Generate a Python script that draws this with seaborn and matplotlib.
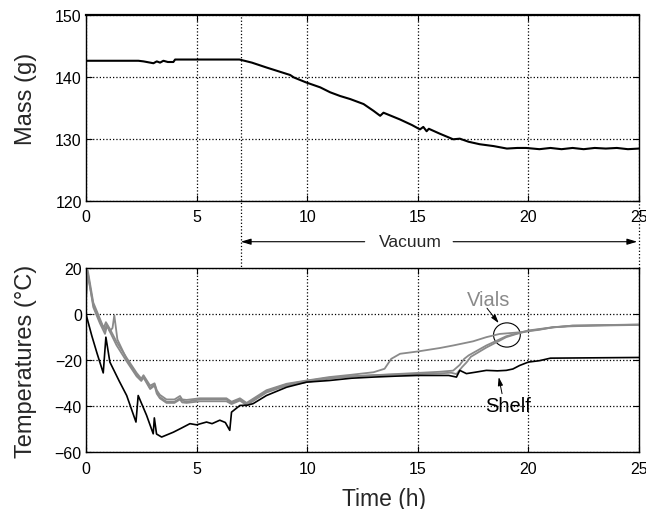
import matplotlib.pyplot as plt
import seaborn as sns
from matplotlib.patches import Ellipse
from matplotlib.transforms import blended_transform_factory

# Mass of the product during the run
mass_t = [0, 0.2, 2.37, 2.6, 3.05, 3.2, 3.35, 3.5, 3.7, 3.95, 4.03, 5.5, 6.94,
          7.5, 8.17, 8.7, 9.23, 9.4, 9.95, 10.59, 11.04, 11.49, 11.95, 12.55,
          13.0, 13.3, 13.45, 14.2, 14.74, 15.1, 15.25, 15.4, 15.5, 16.0, 16.6,
          16.9, 17.3, 17.8, 18.43, 19.03, 19.5, 19.9, 20.5, 21.0, 21.5, 22.0,
          22.5, 23.0, 23.5, 24.0, 24.5, 25.0]
mass_g = [142.6, 142.6, 142.6, 142.5, 142.2, 142.5, 142.3, 142.6, 142.4, 142.4,
          142.8, 142.8, 142.8, 142.3, 141.5, 140.9, 140.3, 139.9, 139.1, 138.3,
          137.5, 136.9, 136.4, 135.6, 134.5, 133.7, 134.2, 133.1, 132.2, 131.5,
          131.9, 131.2, 131.6, 130.8, 129.9, 130.0, 129.5, 129.1, 128.8, 128.4,
          128.5, 128.5, 128.3, 128.5, 128.3, 128.5, 128.3, 128.5, 128.4, 128.5,
          128.3, 128.4]

# Shelf temperature
shelf_t = [0, 0.26, 0.5, 0.78, 0.9, 1.08, 1.5, 1.84, 2.26, 2.36, 2.74, 3.04,
           3.09, 3.19, 3.42, 3.95, 4.3, 4.7, 5.0, 5.45, 5.7, 6.05, 6.3, 6.5,
           6.58, 6.96, 7.3, 7.56, 8.16, 9.07, 9.97, 11.0, 12.0, 13.0, 14.0,
           15.0, 16.4, 16.75, 16.9, 17.2, 17.6, 18.1, 18.6, 19.0, 19.3, 19.6,
           20.0, 20.5, 21.0, 25.0]
shelf_c = [0, -9.3, -17, -25.5, -10, -20.8, -29, -35.3, -46.8, -35.3, -43.9,
           -51.9, -45, -52, -53.3, -51.2, -49.5, -47.5, -48, -46.8, -47.5, -46,
           -47, -50.4, -42.5, -39.6, -39.5, -38.8, -35.3, -31.7, -29.5, -28.8,
           -27.8, -27.3, -26.9, -26.6, -26.6, -27.3, -24.4, -25.8, -25.2, -24.4,
           -24.6, -24.4, -23.8, -22.3, -20.8, -20.2, -19.1, -18.8]

# Vial temperatures
vial1_t = [0, 0.08, 0.33, 0.63, 0.8, 0.9, 1.08, 1.38, 1.84, 2.29, 2.5, 2.6,
           2.9, 3.1, 3.2, 3.34, 3.64, 4.0, 4.25, 4.35, 4.55, 5.15, 6.35, 6.58,
           6.96, 7.26, 8.16, 9.07, 9.97, 11.0, 12.0, 13.0, 13.5, 13.8, 14.2,
           15.0, 16.0, 16.6, 17.5, 18.1, 18.7, 19.6, 20.5, 21.1, 21.9, 23.0,
           25.0]
vial1_c = [8, 19, 5, -2, -6, -3.5, -6.4, -12, -19, -25.5, -28, -26.5, -31, -30,
           -33, -35, -37, -37, -35.5, -37, -37.2, -36.5, -36.5, -38, -36.5,
           -38.5, -33, -30.2, -28.8, -27.3, -26.3, -25.2, -23.7, -19.4, -17.2,
           -16.2, -14.7, -13.6, -11.8, -10, -8.6, -7.9, -6.8, -5.7, -5.3, -5.0,
           -4.7]
vial2_t = [0, 0.08, 0.33, 0.63, 0.86, 0.95, 1.1, 1.38, 1.84, 2.29, 2.5, 2.6,
           2.9, 3.1, 3.2, 3.34, 3.64, 4.0, 4.25, 4.35, 4.55, 5.15, 6.35, 6.58,
           6.96, 7.26, 8.16, 9.07, 9.97, 11.0, 12.0, 13.0, 14.0, 15.0, 16.0,
           16.6, 16.9, 17.1, 17.3, 18.1, 19.0, 20.0, 21.1, 22.0, 25.0]
vial2_c = [10, 18, 3, -4, -8.6, -5, -8, -13.5, -20.5, -27, -29, -27.5, -32.5,
           -31, -34.5, -36.5, -38.5, -38.5, -37, -38.3, -38.5, -37.8, -37.8,
           -39, -37.5, -39.5, -34, -31, -29.5, -28, -27, -26.5, -26, -25.5, -25,
           -24.5, -22, -19.4, -17.9, -13.6, -9.6, -7.1, -5.7, -5.0, -4.5]
vial3_t = [0, 0.08, 0.33, 0.63, 0.86, 0.93, 1.08, 1.2, 1.28, 1.42, 1.84, 2.29,
           2.5, 2.6, 2.9, 3.1, 3.2, 3.34, 3.64, 4.0, 4.25, 4.35, 4.55, 5.15,
           6.35, 6.58, 6.96, 7.26, 8.16, 9.07, 9.97, 11.0, 12.0, 13.0, 14.0,
           15.0, 16.0, 16.5, 16.75, 17.0, 17.2, 17.4, 18.1, 19.0, 19.5, 20.0,
           21.1, 22.0, 25.0]
vial3_c = [6, 17, 4, -3, -7, -4.5, -7.5, -6, -0.5, -11, -19.5, -26.5, -28.5,
           -27, -32, -30.5, -33.5, -36, -38, -38, -36.5, -37.5, -38, -37, -37,
           -38.5, -37, -39, -33.5, -30.5, -29, -27.6, -27, -26.5, -26.2, -26,
           -25.7, -25.4, -26, -23, -21, -18.5, -14.5, -10, -8.5, -7.3, -5.8,
           -5.0, -4.6]

time_ticks = [0, 5, 10, 15, 20, 25]
mass_ticks = [120, 130, 140, 150]
temp_ticks = [-60, -40, -20, 0, 20]
vacuum_start, vacuum_end = 7, 25

sns.set_style("white")
plt.rcParams["font.family"] = ["Liberation Sans", "DejaVu Sans"]

fig = plt.figure(figsize=(6.46, 5.1), dpi=100)
ax1 = fig.add_axes([0.1331, 0.6049, 0.856, 0.3637])
ax2 = fig.add_axes([0.1331, 0.1108, 0.856, 0.3618])

gray = "#8a8a8a"
sns.lineplot(x=mass_t, y=mass_g, color="black", lw=1.5, ax=ax1)
for vt, vc in [(vial1_t, vial1_c), (vial2_t, vial2_c), (vial3_t, vial3_c)]:
    sns.lineplot(x=vt, y=vc, color=gray, lw=1.3, ax=ax2)
sns.lineplot(x=shelf_t, y=shelf_c, color="black", lw=1.2, ax=ax2)

for ax, yt in [(ax1, mass_ticks), (ax2, temp_ticks)]:
    ax.set_xlim(0, 25)
    ax.set_ylim(yt[0], yt[-1])
    ax.set_xticks(time_ticks)
    ax.set_yticks(yt)
    ax.grid(True, linestyle=":", color="black", lw=0.9)
    ax.tick_params(direction="in", length=4, width=0.8, top=True, right=True,
                   bottom=True, left=True, labelsize=11.5, colors="black")
    ax.tick_params(axis="y", pad=3)
    ax.tick_params(axis="x", pad=6)
    for s in ax.spines.values():
        s.set_color("black")
        s.set_linewidth(1.0)
ax1.spines["top"].set_linewidth(1.6)

ax1.set_ylabel("Mass (g)", fontsize=17)
ax1.yaxis.set_label_coords(-0.088, 0.555)
ax2.set_ylabel("Temperatures (°C)", fontsize=17)
ax2.yaxis.set_label_coords(-0.088, 0.5)
ax2.set_xlabel("Time (h)", fontsize=16.5)
ax2.xaxis.set_label_coords(0.539, -0.185)

# vacuum markers spanning both panels
tr = blended_transform_factory(ax1.transData, fig.transFigure)
ax1.plot([vacuum_start, vacuum_start], [0.1108, 0.9686], transform=tr,
         ls=":", color="black", lw=0.9, clip_on=False)
ax1.plot([vacuum_end, vacuum_end], [0.4726, 0.6049], transform=tr,
         ls=":", color="black", lw=0.9, clip_on=False)
arrow_y = 0.5241
aprops = dict(arrowstyle="-|>,head_length=0.6,head_width=0.18", color="black",
              lw=0.8, shrinkA=0, shrinkB=0)
ax1.annotate("", xy=(vacuum_start, arrow_y), xytext=(12.6, arrow_y),
             xycoords=tr, textcoords=tr, arrowprops=aprops)
ax1.annotate("", xy=(vacuum_end - 0.08, arrow_y), xytext=(16.6, arrow_y),
             xycoords=tr, textcoords=tr, arrowprops=aprops)
ax1.text(14.65, arrow_y, "Vacuum", transform=tr, ha="center", va="center",
         fontsize=12.5)

# labels for the temperature curves
ax2.text(18.2, 4.0, "Vials", color=gray, fontsize=14.5, ha="center",
         va="baseline")
ax2.annotate("", xy=(18.66, -3.9), xytext=(18.13, 2.55),
             arrowprops=dict(arrowstyle="-|>,head_length=0.5,head_width=0.15",
                             color="black", lw=0.7, shrinkA=0, shrinkB=0))
ax2.add_patch(Ellipse((19.03, -9.05), 1.21, 10.5, fill=False, color="black",
                      lw=0.8))
ax2.text(19.1, -41.8, "Shelf", color="black", fontsize=14.5, ha="center",
         va="baseline")
ax2.annotate("", xy=(18.66, -27.3), xytext=(18.81, -34.5),
             arrowprops=dict(arrowstyle="-|>,head_length=0.5,head_width=0.15",
                             color="black", lw=0.7, shrinkA=0, shrinkB=0))

fig.savefig("out.png", dpi=100)
